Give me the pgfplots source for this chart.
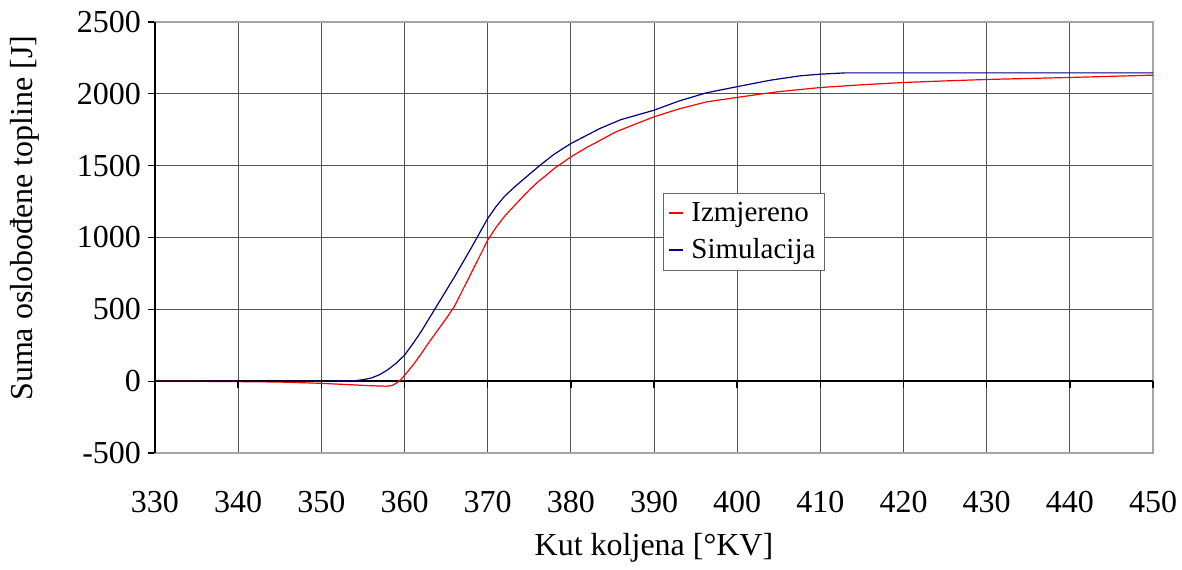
\documentclass[border=0pt]{standalone}
\usepackage{pgfplots}
\pgfplotsset{compat=1.18}
\usepackage{fontspec}
\setmainfont{Liberation Serif}
\definecolor{navyb}{RGB}{0,0,128}
\begin{document}
\begin{tikzpicture}
\useasboundingbox (-77.5pt,-58pt) rectangle (513.5pt,226.5pt);
\begin{axis}[
  scale only axis,
  width=499pt, height=215.5pt,
  xmin=330, xmax=450, ymin=-500, ymax=2500,
  xtick={330,340,...,450},
  ytick={-500,0,...,2500},
  /pgf/number format/assume math mode=true,
  /pgf/number format/1000 sep={},
  tick label style={font=\fontsize{16}{18}\selectfont},
  xticklabel style={yshift=-12pt},
  xtick style={draw=none},
  ytick style={draw=black, line width=0.6pt},
  ytick pos=left,
  tick align=outside,
  major tick length=3.5pt,
  grid=major,
  major grid style={draw=black!68, line width=0.5pt},
  axis line style={draw=black!35, line width=0.6pt},
  xlabel={Kut koljena [°KV]},
  ylabel={Suma oslobođene topline [J]},
  label style={font=\fontsize{16}{18}\selectfont},
  xlabel style={at={(axis description cs:0.5,-0.22)}, anchor=center},
  ylabel style={at={(axis description cs:-0.130,0.545)}, anchor=center, rotate=0},
  legend style={at={(rel axis cs:0.509,0.603)}, anchor=north west,
    draw=black!60, font=\fontsize{14.5}{17}\selectfont, inner sep=2.5pt,
    row sep=3pt, column sep=1.5pt, cells={anchor=west}},
  legend image code/.code={\draw[#1, line width=1pt] (0pt,0.3pt) -- (7pt,0.3pt);},
  clip=false,
]
\draw[black, line width=0.8pt] (axis cs:330,0) -- (axis cs:450,0);
\draw[black, line width=0.8pt] (rel axis cs:0,0) -- (rel axis cs:0,1);
\foreach \xx in {340,350,...,450} {
  \edef\temp{\noexpand\draw[black, line width=0.8pt] (axis cs:\xx,0) -- ([yshift=-3.5pt]axis cs:\xx,0);}
  \temp
}
\addplot[red, line width=0.6pt] coordinates {
(330,0) (335,-1) (340,-3) (345,-6) (350,-15) (353.6,-25) (356,-32) (357.9,-35)
(358.5,-30) (359,-15) (359.5,7) (360,40) (361,110) (362,190) (363,275) (364,355)
(365,435) (366,520) (367,635) (368,750) (369,865) (370,981)
(371,1070) (372,1145) (372.7,1190) (374,1270) (375,1330) (376,1385) (376.9,1427)
(378,1480) (380,1561) (382,1630) (383,1660) (385.4,1735) (388,1795) (390,1840)
(393,1895) (396.3,1944) (400,1975) (403,2000) (405,2015) (410,2044) (415,2063)
(420,2079) (425,2090) (430,2100) (435,2107) (440,2114) (445,2122) (450,2130)
};
\addlegendentry{Izmjereno}
\addplot[navyb, line width=0.6pt] coordinates {
(330,0) (340,0) (350,0) (352,1) (354,3) (355,10) (356,22) (357,45) (358,80)
(359,125) (360,181) (361,260) (362,345) (363,440) (364,535) (365,630)
(366,725) (368,925) (370,1132) (371,1215) (372,1285) (373,1340) (374,1390)
(376.3,1503) (378,1580) (380,1654) (383.5,1759) (386,1820) (390,1886)
(393,1950) (396.3,2007) (400,2050) (404,2095) (407.5,2125) (410,2137)
(413,2146) (420,2146) (430,2146) (440,2146) (450,2146)
};
\addlegendentry{Simulacija}
\end{axis}
\end{tikzpicture}
\end{document}
